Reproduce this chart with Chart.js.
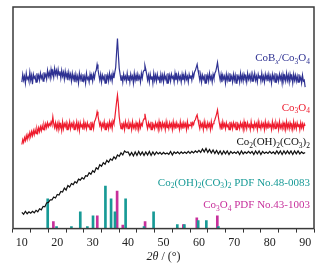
<!DOCTYPE html>
<html>
<head>
<meta charset="utf-8">
<script src="https://cdn.jsdelivr.net/npm/chart.js@4.4.0/dist/chart.umd.min.js"></script>
<style>
  html, body { margin: 0; padding: 0; background: #fff; }
  #wrap { width: 332px; height: 273px; position: relative; }
</style>
</head>
<body>
<div id="wrap"><canvas id="xrdChart"></canvas></div>
<script>
'use strict';

// 2θ sampling of the measured patterns, starting at 10°
const THETA_START = 10;
const STEP_FINE = 0.25;   // CoBx/Co3O4 and Co3O4 scans
const STEP_COARSE = 0.5;  // precursor scan

// CoBx/Co3O4 (offset intensity, a.u.), 10° .. 90° every 0.25°
const cobxCo3o4 = [
  148,156,150,154,147,157,151,153,149,158,150,155,146,156,152,154,148,157,151,155,
  150,157,152,155,149,158,153,156,151,160,154,158,152,161,155,159,153,162,156,160,
  154,161,155,159,152,160,154,158,151,159,153,157,150,158,152,156,149,157,151,155,
  148,156,150,154,147,157,151,155,149,156,150,154,147,157,151,153,148,156,150,155,
  149,156,152,158,160,166,161,155,150,156,148,155,151,154,147,156,150,155,149,157,
  151,155,149,157,152,158,163,178,192,176,162,156,150,155,148,156,151,154,149,157,
  150,155,148,156,151,154,147,157,150,155,149,156,151,154,148,157,152,158,160,165,
  161,156,150,155,148,156,151,154,147,157,150,155,149,156,151,153,147,156,150,155,
  148,156,151,154,147,157,150,155,149,156,152,154,148,157,150,155,149,156,151,154,
  148,156,150,155,149,157,151,154,148,156,152,155,150,157,153,158,160,163,166,160,
  155,150,156,148,155,151,154,147,156,150,155,149,157,151,154,148,156,152,157,159,
  163,168,161,155,150,156,148,155,151,154,147,156,150,155,149,157,151,154,148,156,
  150,155,147,156,151,154,148,157,150,155,149,156,152,154,148,157,151,155,150,156,
  149,155,151,157,150,154,148,156,152,155,149,157,150,154,148,156,151,155,149,156,
  150,154,147,156,151,155,148,157,150,154,149,156,151,155,147,156,150,154,149,157,
  150,155,148,156,151,154,147,156,150,155,149,154,148,156,150,153,147,155,149,150,
  143
];

// Co3O4, 10° .. 90° every 0.25°
const co3o4 = [
  85,90,87,92,89,94,90,95,92,97,93,98,94,99,95,100,96,101,97,102,
  98,103,99,104,100,105,101,106,102,107,103,106,104,108,105,113,106,102,107,101,
  106,100,107,102,105,99,108,101,106,103,107,100,105,102,108,101,106,103,107,100,
  105,102,108,101,106,99,107,103,105,100,108,102,106,101,107,103,105,100,108,102,
  106,101,108,110,113,118,114,109,104,107,101,106,103,108,100,107,102,106,101,108,
  103,107,101,109,106,112,120,128,135,126,113,106,101,107,102,106,100,108,103,106,
  101,107,103,106,100,108,102,105,101,107,103,106,100,108,102,106,104,109,111,116,
  111,105,101,107,103,106,100,108,102,105,101,107,103,106,100,108,102,106,101,107,
  103,106,100,108,102,105,101,107,103,106,100,108,102,106,101,107,103,105,100,108,
  102,106,101,107,103,106,100,108,102,105,104,108,103,107,105,109,110,113,115,110,
  105,101,107,103,106,100,108,102,105,101,107,103,106,100,108,102,106,108,110,113,
  116,120,113,107,102,106,100,108,103,106,101,107,103,105,100,108,102,106,101,107,
  103,106,100,108,102,105,101,107,103,106,100,108,102,106,101,107,103,105,100,108,
  102,106,101,107,103,106,100,108,102,105,101,107,103,106,100,108,102,106,101,107,
  103,105,100,108,102,106,101,107,103,106,100,108,102,105,101,107,103,106,100,108,
  102,106,101,107,103,105,100,108,102,106,101,107,103,106,100,107,102,106,101,106,
  104
];

// Co2(OH)2(CO3)2 precursor, 10° .. 90° every 0.5°
const co2ohco3 = [
  16.5,14.5,17.5,15,17,15.5,17.5,16,18.5,17,
  20,19,22.5,22,26,26.5,29,29,32,31,
  34.5,34,37.5,37,41,39,43.5,42,45.5,44.5,
  47.5,46,50,49,51.5,50,53.5,53,56.5,55,
  58.5,57,61.5,60,64.5,63,66.5,65,69,67,
  70.5,69,72.5,70.5,74.5,73,76.5,74.5,78.5,77,
  77.5,74,77,73.5,77.5,74,78,74.5,77.5,74,
  77.5,74.5,78,74,77.5,74.5,77.5,75.5,77,75,
  77,75.5,76.5,75,78,74.5,77.5,76,77.5,75.5,
  77.5,76,77.5,76,78,76,78,76.5,78.5,77,
  79,77,80.5,77.5,81,77,80,76.5,79.5,76,
  79,75.5,78.5,75,78.5,75.5,78.5,75,78,76,
  77.5,76,78,75,78.5,75.5,77.5,76,78,76,
  78,75,78.5,75.5,78.5,75,78,76,77.5,76,
  78,76,77.5,75.5,78.5,75.5,78.5,75,78.5,75.5,
  78.5,75.5,78.5,75,78.5,75.5,78.5,75.5,77.5,76,
  77
];

// reference sticks: PDF No.48-0083
const pdf480083Pos = [17.3, 19.8, 24.0, 26.5, 28.5, 30.1, 33.6, 35.2, 36.3, 39.3, 44.5, 47.2, 53.9, 55.9, 59.8, 62.1, 65.5];
const pdf480083Int = [30, 2, 2, 17, 2, 13, 43, 30, 17, 30, 2, 17, 4, 4, 8, 8, 2];

// reference sticks: PDF No.43-1003
const pdf431003Pos = [18.9, 31.3, 36.9, 38.5, 44.8, 55.6, 59.4, 65.2];
const pdf431003Int = [7, 13, 38, 3.5, 7, 4, 11, 13];

const xTicks = [10, 20, 30, 40, 50, 60, 70, 80, 90];

const BLUE = '#2e3192';
const RED = '#ee1c2e';
const TEAL = '#179a96';
const MAGENTA = '#c7309b';
const SERIF = '"Liberation Serif", "Times New Roman", serif';

const toXY = (arr, step) => arr.map((v, i) => ({ x: THETA_START + i * step, y: v }));
const toSticks = (pos, val) => pos.map((p, i) => ({ x: p, y: val[i] }));

// text with subscripts, right aligned at xRight
function drawRich(ctx, runs, xRight, yMid, color, size) {
  const subSize = size * 0.68;
  const fontOf = k => {
    if (k === 's') return subSize + 'px ' + SERIF;
    if (k === 'si') return 'italic ' + subSize + 'px ' + SERIF;
    return size + 'px ' + SERIF;
  };
  let total = 0;
  runs.forEach(([t, k]) => { ctx.font = fontOf(k); total += ctx.measureText(t).width; });
  let x = xRight - total;
  ctx.fillStyle = color;
  ctx.textBaseline = 'alphabetic';
  ctx.textAlign = 'left';
  const base = yMid + size * 0.33;
  runs.forEach(([t, k]) => {
    ctx.font = fontOf(k);
    const dy = (k === 's' || k === 'si') ? size * 0.25 : 0;
    ctx.fillText(t, x, base + dy);
    x += ctx.measureText(t).width;
  });
}

const CO3O4 = [['Co', ''], ['3', 's'], ['O', ''], ['4', 's']];
const PRECURSOR = [['Co', ''], ['2', 's'], ['(OH)', ''], ['2', 's'], ['(CO', ''], ['3', 's'], [')', ''], ['2', 's']];

const seriesLabels = [
  { runs: [['CoB', ''], ['x', 'si'], ['/Co', ''], ['3', 's'], ['O', ''], ['4', 's']], y: 173, color: BLUE },
  { runs: CO3O4, y: 123, color: RED },
  { runs: PRECURSOR, y: 88, color: '#111' },
  { runs: PRECURSOR.concat([[' PDF No.48-0083', '']]), y: 47, color: TEAL },
  { runs: CO3O4.concat([[' PDF No.43-1003', '']]), y: 24, color: MAGENTA },
];

const decorations = {
  id: 'decorations',
  afterDraw(chart) {
    const { ctx, chartArea: a, scales } = chart;
    ctx.save();
    ctx.strokeStyle = '#3a3a3a';
    ctx.lineWidth = 1.5;
    ctx.strokeRect(a.left, a.top, a.right - a.left, a.bottom - a.top);

    seriesLabels.forEach(l => {
      drawRich(ctx, l.runs, a.right - 4, scales.y.getPixelForValue(l.y), l.color, 11);
    });

    // axis title: 2θ / (°)
    ctx.fillStyle = '#222';
    ctx.textBaseline = 'middle';
    ctx.textAlign = 'left';
    ctx.font = 'italic 12px ' + SERIF;
    const p1 = '2θ';
    const w1 = ctx.measureText(p1).width;
    ctx.font = '12px ' + SERIF;
    const p2 = ' / (°)';
    const w2 = ctx.measureText(p2).width;
    const x = (a.left + a.right) / 2 - (w1 + w2) / 2;
    ctx.font = 'italic 12px ' + SERIF;
    ctx.fillText(p1, x, 257);
    ctx.font = '12px ' + SERIF;
    ctx.fillText(p2, x + w1, 257);
    ctx.restore();
  },
};

const lineStyle = { type: 'line', pointRadius: 0, borderWidth: 1.2, tension: 0, fill: false };
const stickStyle = { type: 'bar', barThickness: 2, grouped: false, borderWidth: 0 };

new Chart(document.getElementById('xrdChart').getContext('2d'), {
  type: 'line',
  data: {
    datasets: [
      { ...lineStyle, label: 'CoBx/Co3O4', data: toXY(cobxCo3o4, STEP_FINE), borderColor: BLUE },
      { ...lineStyle, label: 'Co3O4', data: toXY(co3o4, STEP_FINE), borderColor: RED },
      { ...lineStyle, label: 'Co2(OH)2(CO3)2', data: toXY(co2ohco3, STEP_COARSE), borderColor: '#111' },
      { ...stickStyle, label: 'PDF 48-0083', data: toSticks(pdf480083Pos, pdf480083Int), backgroundColor: TEAL },
      { ...stickStyle, label: 'PDF 43-1003', data: toSticks(pdf431003Pos, pdf431003Int), backgroundColor: MAGENTA },
    ],
  },
  options: {
    responsive: true,
    maintainAspectRatio: false,
    animation: false,
    layout: { padding: { left: 13, right: 18, top: 7, bottom: 20 } },
    plugins: { legend: { display: false }, tooltip: { enabled: false } },
    scales: {
      x: {
        type: 'linear',
        min: 10,
        max: 90,
        border: { display: false },
        grid: { drawOnChartArea: false, tickLength: 4, color: '#333', lineWidth: 1 },
        ticks: {
          stepSize: 5,
          autoSkip: false,
          padding: 3,
          maxRotation: 0,
          color: '#222',
          font: { family: SERIF, size: 12 },
          callback: v => (xTicks.includes(v) ? String(v) : ''),
        },
      },
      y: { type: 'linear', min: 0, max: 224, display: false },
    },
  },
  plugins: [decorations],
});
</script>
</body>
</html>
